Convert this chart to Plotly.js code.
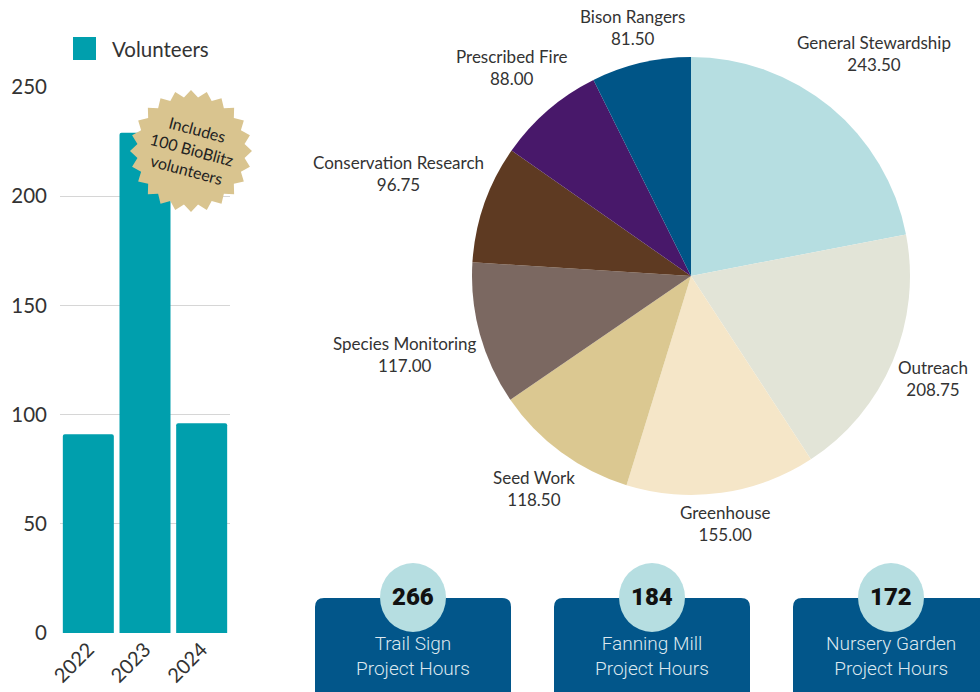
<!DOCTYPE html>
<html>
<head>
<meta charset="utf-8">
<script src="https://cdn.plot.ly/plotly-3.0.1.min.js"></script>
<style>html,body{margin:0;padding:0;background:#fff}#chart{width:980px;height:692px}</style>
</head>
<body>
<div id="chart"></div>
<script>
// ---- data ----
const years = ['2022', '2023', '2024'];
const volunteers = [91, 229, 96];

const pieLabels = ['General Stewardship', 'Outreach', 'Greenhouse', 'Seed Work', 'Species Monitoring', 'Conservation Research', 'Prescribed Fire', 'Bison Rangers'];
const pieValues = [243.5, 208.75, 155.0, 118.5, 117.0, 96.75, 88.0, 81.5];
const pieColors = ['#b6dee1', '#e2e4d7', '#f5e6c8', '#dbc891', '#7b6861', '#5e3a22', '#48186a', '#005587'];

const cardValues = ['266', '184', '172'];
const cardLabels = ['Trail Sign<br>Project Hours', 'Fanning Mill<br>Project Hours', 'Nursery Garden<br>Project Hours'];

// ---- helpers (pixel -> paper) ----
const W = 980, H = 692;
const px = x => x / W;
const py = y => (H - y) / H;

const FONT = 'Lato, "Open Sans", sans-serif';

const shapes = [];
const annotations = [];

// legend (manual)
shapes.push({type: 'rect', xref: 'paper', yref: 'paper', x0: px(73), x1: px(96), y0: py(60), y1: py(37),
  fillcolor: '#009fad', line: {width: 0}});
annotations.push({xref: 'paper', yref: 'paper', x: px(110), y: py(48.5), xanchor: 'left', yanchor: 'middle',
  text: 'Volunteers', showarrow: false, font: {family: FONT, size: 20.5, color: '#333'}});

// badge starburst
(function () {
  const cx = 191, cy = 151, ro = 61, ri = 54, n = 24;
  let d = '';
  for (let i = 0; i < 2 * n; i++) {
    const a = (Math.PI * i) / n - Math.PI / 2;
    const r = i % 2 === 0 ? ro : ri;
    const x = cx + r * Math.cos(a), y = cy + r * Math.sin(a);
    d += (i === 0 ? 'M' : 'L') + px(x).toFixed(5) + ',' + py(y).toFixed(5);
  }
  d += 'Z';
  shapes.push({type: 'path', xref: 'paper', yref: 'paper', path: d, fillcolor: '#d9c48f', line: {width: 0}, layer: 'above'});
  annotations.push({xref: 'paper', yref: 'paper', x: px(cx + 1), y: py(cy - 1), xanchor: 'center', yanchor: 'middle',
    text: 'Includes<br>100 BioBlitz<br>volunteers', textangle: 15, showarrow: false,
    font: {family: FONT, size: 16, color: '#222'}});
})();

// pie labels placed at mid-angle of each slice, outside the pie
(function () {
  const cx = 691, cy = 276, R = 222, fs = 17;
  const ctx = document.createElement('canvas').getContext('2d');
  ctx.font = fs + 'px Lato';
  const total = pieValues.reduce((a, b) => a + b, 0);
  let cum = 0;
  pieValues.forEach((v, i) => {
    const mid = (cum + v / 2) / total;
    cum += v;
    const th = 2 * Math.PI * mid;
    const valTxt = v.toFixed(2);
    const hw = Math.max(ctx.measureText(pieLabels[i]).width, ctx.measureText(valTxt).width) / 2;
    const hh = 22;
    const d = R + hw * Math.abs(Math.sin(th)) + hh * Math.abs(Math.cos(th));
    const x = cx + d * Math.sin(th), y = cy - d * Math.cos(th);
    annotations.push({xref: 'paper', yref: 'paper', x: px(x), y: py(y), xanchor: 'center', yanchor: 'middle',
      text: pieLabels[i] + '<br>' + valTxt, showarrow: false, font: {family: FONT, size: fs, color: '#333'}});
  });
})();

// bottom cards
const cardCenters = [413, 652, 891];
cardCenters.forEach((cx, i) => {
  const l = cx - 98, r = cx + 98, t = 598, b = 710, rad = 9;
  const rx = rad / W, ry = rad / H;
  const path = 'M' + px(l) + ',' + py(b) +
    'L' + px(l) + ',' + (py(t) - ry) +
    'Q' + px(l) + ',' + py(t) + ' ' + (px(l) + rx) + ',' + py(t) +
    'L' + (px(r) - rx) + ',' + py(t) +
    'Q' + px(r) + ',' + py(t) + ' ' + px(r) + ',' + (py(t) - ry) +
    'L' + px(r) + ',' + py(b) + 'Z';
  shapes.push({type: 'path', xref: 'paper', yref: 'paper', path: path, fillcolor: '#02568a', line: {width: 0}});
  shapes.push({type: 'circle', xref: 'paper', yref: 'paper', x0: px(cx - 33), x1: px(cx + 33), y0: py(632), y1: py(563),
    fillcolor: '#b6dee1', line: {width: 0}});
  annotations.push({xref: 'paper', yref: 'paper', x: px(cx), y: py(597), xanchor: 'center', yanchor: 'middle',
    text: cardValues[i], showarrow: false, font: {family: 'Roboto, sans-serif', size: 24, color: '#111', weight: 900}});
  annotations.push({xref: 'paper', yref: 'paper', x: px(cx), y: py(656), xanchor: 'center', yanchor: 'middle',
    text: cardLabels[i], showarrow: false, font: {family: 'Roboto, sans-serif', size: 19, color: '#dde8ef', weight: 300}});
});

const traces = [
  {
    type: 'bar', x: years, y: volunteers, name: 'Volunteers', marker: {color: '#009fad'},
    xaxis: 'x', yaxis: 'y', showlegend: false, hoverinfo: 'x+y'
  },
  {
    type: 'pie', labels: pieLabels, values: pieValues, sort: true, direction: 'clockwise', rotation: 0,
    marker: {colors: pieColors, line: {width: 0}},
    textinfo: 'none',
    domain: {x: [px(472), px(910)], y: [py(495), py(57)]},
    showlegend: false, automargin: false
  }
];

const layout = {
  width: W, height: H,
  margin: {l: 0, r: 0, t: 0, b: 0},
  paper_bgcolor: '#fff', plot_bgcolor: '#fff',
  font: {family: FONT, color: '#333'},
  bargap: 0.1,
  barcornerradius: 2,
  xaxis: {domain: [px(60), px(230)], tickangle: -45, tickfont: {family: FONT, size: 20, color: '#333'},
    showgrid: false, zeroline: false, showline: false, ticks: '', automargin: false},
  yaxis: {domain: [py(633), py(87)], range: [0, 250], dtick: 50, tickfont: {family: FONT, size: 20.5, color: '#333'},
    gridcolor: '#d6d6d6', gridwidth: 1, zeroline: false, showline: false, ticks: '', ticklabelstandoff: 12, automargin: false},
  showlegend: false,
  shapes: shapes,
  annotations: annotations
};

Plotly.newPlot('chart', traces, layout, {displayModeBar: false, staticPlot: true});
</script>
</body>
</html>
